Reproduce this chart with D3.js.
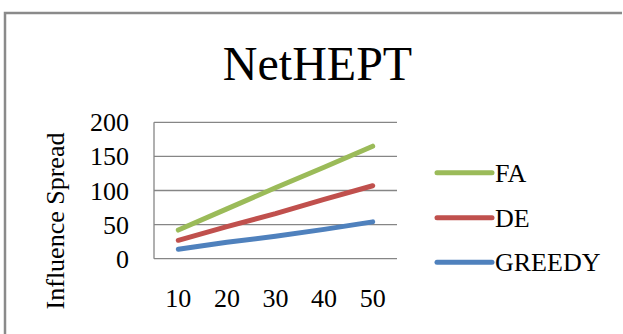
<!DOCTYPE html>
<html>
<head>
<meta charset="utf-8">
<script src="https://cdn.jsdelivr.net/npm/d3@7"></script>
<style>
svg text { font-family: "Liberation Serif", "Times New Roman", Times, serif !important; }
</style>
</head>
<body style="margin:0">
<svg id="chart" width="623" height="334"></svg>
<script>
const title = "NetHEPT";
const yAxisTitle = "Influence Spread";
const categories = ["10", "20", "30", "40", "50"];
const seriesNames = ["FA", "DE", "GREEDY"];
const faValues = [42, 73, 104, 134, 165];
const deValues = [27, 47, 66, 87, 107];
const greedyValues = [14, 24, 33, 43, 54];
const yTicks = [0, 50, 100, 150, 200];
const colors = ["#9BBB59", "#C0504D", "#4F81BD"];

const series = [faValues, deValues, greedyValues].map((v, i) => ({name: seriesNames[i], values: v, color: colors[i]}));
const serif = t => t.attr("font-family", "Liberation Serif, Times New Roman, serif")
  .style("font-family", "\"Liberation Serif\", \"Times New Roman\", serif");

const svg = d3.select("#chart");

// outer frame
svg.append("path")
  .attr("d", "M5,334 V13 H622")
  .attr("fill", "none").attr("stroke", "#8a8a8a").attr("stroke-width", 2.5);

const x = d3.scaleBand().domain(categories).range([154, 397]);
const y = d3.scaleLinear().domain([0, 200]).range([258.7, 122.3]);

// gridlines
const g = svg.append("g");
g.selectAll("line.grid").data(yTicks.filter(t => t > 0)).join("line")
  .attr("x1", 154).attr("x2", 397)
  .attr("y1", d => y(d)).attr("y2", d => y(d))
  .attr("stroke", "#868686").attr("stroke-width", 1.3);

g.append("line").attr("x1", 154).attr("x2", 154).attr("y1", y(200)).attr("y2", y(0))
  .attr("stroke", "#868686").attr("stroke-width", 1.3);
g.append("line").attr("x1", 154).attr("x2", 397).attr("y1", y(0)).attr("y2", y(0))
  .attr("stroke", "#868686").attr("stroke-width", 1.3);

// y tick labels
g.selectAll("text.yt").data(yTicks).join("text")
  .attr("x", 129).attr("y", d => y(d) + 9)
  .attr("text-anchor", "end").attr("font-size", 26)
  .call(serif)
  .text(d => d);

// x tick labels
g.selectAll("text.xt").data(categories).join("text")
  .attr("x", d => x(d) + x.bandwidth() / 2).attr("y", 306.5)
  .attr("text-anchor", "middle").attr("font-size", 26)
  .call(serif)
  .text(d => d);

// y axis title
svg.append("text")
  .attr("transform", "translate(64,221) rotate(-90)")
  .attr("text-anchor", "middle").attr("font-size", 26)
  .call(serif)
  .text(yAxisTitle);

// title
svg.append("text")
  .attr("x", 317.5).attr("y", 80)
  .attr("text-anchor", "middle").attr("font-size", 48)
  .call(serif)
  .text(title);

// lines
const line = d3.line()
  .x((d, i) => x(categories[i]) + x.bandwidth() / 2)
  .y(d => y(d));
svg.append("g").selectAll("path").data(series.slice().reverse()).join("path")
  .attr("d", d => line(d.values))
  .attr("fill", "none").attr("stroke", d => d.color)
  .attr("stroke-width", 5).attr("stroke-linecap", "round").attr("stroke-linejoin", "round");

// legend
const legY = [172.7, 217.7, 262.3];
const leg = svg.append("g").selectAll("g").data(series).join("g")
  .attr("transform", (d, i) => `translate(0,${legY[i]})`);
leg.append("line").attr("x1", 437).attr("x2", 492).attr("y1", 0).attr("y2", 0)
  .attr("stroke", d => d.color).attr("stroke-width", 5).attr("stroke-linecap", "round");
leg.append("text").attr("x", 495).attr("y", 9).attr("font-size", 26)
  .call(serif)
  .text(d => d.name);
</script>
</body>
</html>
